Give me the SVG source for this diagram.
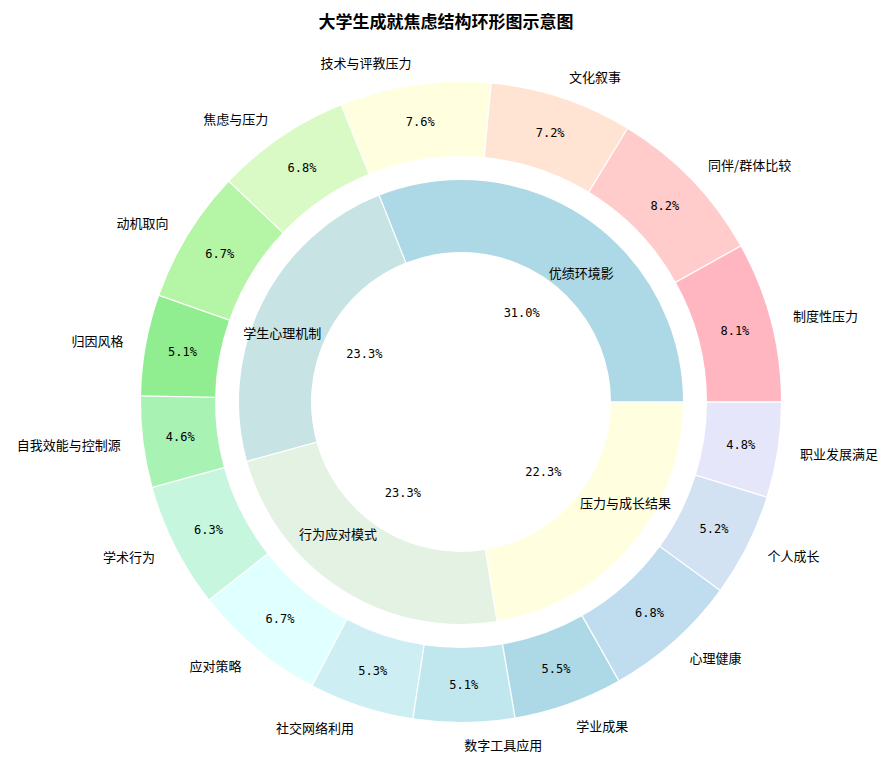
<svg xmlns="http://www.w3.org/2000/svg" width="892" height="763" viewBox="0 0 892 763">
<style>
.o{fill:none;stroke-width:74}
.i{fill:none;stroke-width:72}
.e{stroke:#fff;stroke-width:1.3}
.l{font-family:"Noto Sans CJK SC","DejaVu Sans",sans-serif;font-size:13px;fill:#000;dominant-baseline:central}
.p{font-family:"DejaVu Sans Mono","Liberation Mono",monospace;font-size:12px;fill:#000;text-anchor:middle;dominant-baseline:central}
</style>
<rect width="892" height="763" fill="#fff"/>
<text x="446" y="20" text-anchor="middle" dominant-baseline="central" style="font-family:'Noto Sans CJK SC',sans-serif;font-size:17px;font-weight:bold">大学生成就焦虑结构环形图示意图</text>
<g id="rings" transform="translate(461,402) scale(1,-1)">
<g id="outer">
<circle class="o" r="283" stroke="#FFB6C1" stroke-dasharray="144.1 2000" transform="rotate(0)"/>
<circle class="o" r="283" stroke="#FFCCCB" stroke-dasharray="145.8 2000" transform="rotate(29.16)"/>
<circle class="o" r="283" stroke="#FFE4D4" stroke-dasharray="128.1 2000" transform="rotate(58.68)"/>
<circle class="o" r="283" stroke="#FFFFE0" stroke-dasharray="135.2 2000" transform="rotate(84.6)"/>
<circle class="o" r="283" stroke="#D9F9C5" stroke-dasharray="121 2000" transform="rotate(111.96)"/>
<circle class="o" r="283" stroke="#B4F5A6" stroke-dasharray="119.2 2000" transform="rotate(136.44)"/>
<circle class="o" r="283" stroke="#90EE90" stroke-dasharray="90.8 2000" transform="rotate(160.56)"/>
<circle class="o" r="283" stroke="#A8F2B4" stroke-dasharray="81.9 2000" transform="rotate(178.92)"/>
<circle class="o" r="283" stroke="#C6F7DE" stroke-dasharray="112.1 2000" transform="rotate(195.48)"/>
<circle class="o" r="283" stroke="#E0FFFF" stroke-dasharray="119.2 2000" transform="rotate(218.16)"/>
<circle class="o" r="283" stroke="#CDEFF4" stroke-dasharray="94.3 2000" transform="rotate(242.28)"/>
<circle class="o" r="283" stroke="#C0E6EE" stroke-dasharray="90.8 2000" transform="rotate(261.36)"/>
<circle class="o" r="283" stroke="#ADD8E6" stroke-dasharray="97.9 2000" transform="rotate(279.72)"/>
<circle class="o" r="283" stroke="#BFDDEE" stroke-dasharray="121 2000" transform="rotate(299.52)"/>
<circle class="o" r="283" stroke="#D2E2F2" stroke-dasharray="92.6 2000" transform="rotate(324)"/>
<circle class="o" r="283" stroke="#E6E6FA" stroke-dasharray="85.6 2000" transform="rotate(342.72)"/>
</g>
<g id="inner">
<circle class="i" r="186" stroke="#ADD8E6" stroke-dasharray="362.4 2000" transform="rotate(0)"/>
<circle class="i" r="186" stroke="#C7E3E3" stroke-dasharray="272.4 2000" transform="rotate(111.6)"/>
<circle class="i" r="186" stroke="#E3F2E3" stroke-dasharray="272.4 2000" transform="rotate(195.48)"/>
<circle class="i" r="186" stroke="#FFFFE0" stroke-dasharray="261 2000" transform="rotate(279.36)"/>
</g>
<g id="edges">
<line class="e" x1="245" x2="321" transform="rotate(0)"/>
<line class="e" x1="245" x2="321" transform="rotate(29.16)"/>
<line class="e" x1="245" x2="321" transform="rotate(58.68)"/>
<line class="e" x1="245" x2="321" transform="rotate(84.6)"/>
<line class="e" x1="245" x2="321" transform="rotate(111.96)"/>
<line class="e" x1="245" x2="321" transform="rotate(136.44)"/>
<line class="e" x1="245" x2="321" transform="rotate(160.56)"/>
<line class="e" x1="245" x2="321" transform="rotate(178.92)"/>
<line class="e" x1="245" x2="321" transform="rotate(195.48)"/>
<line class="e" x1="245" x2="321" transform="rotate(218.16)"/>
<line class="e" x1="245" x2="321" transform="rotate(242.28)"/>
<line class="e" x1="245" x2="321" transform="rotate(261.36)"/>
<line class="e" x1="245" x2="321" transform="rotate(279.72)"/>
<line class="e" x1="245" x2="321" transform="rotate(299.52)"/>
<line class="e" x1="245" x2="321" transform="rotate(324)"/>
<line class="e" x1="245" x2="321" transform="rotate(342.72)"/>
<line class="e" x1="149" x2="223" transform="rotate(0)"/>
<line class="e" x1="149" x2="223" transform="rotate(111.6)"/>
<line class="e" x1="149" x2="223" transform="rotate(195.48)"/>
<line class="e" x1="149" x2="223" transform="rotate(279.36)"/>
</g>
</g>
<g id="labels" transform="translate(461,402)">
<g transform="rotate(-14.58)"><text class="l" x="343" transform="rotate(14.58 343 0)">制度性压力</text><text class="p" x="283" transform="rotate(14.58 283 0)">8.1%</text></g>
<g transform="rotate(-43.92)"><text class="l" x="343" transform="rotate(43.92 343 0)">同伴/群体比较</text><text class="p" x="283" transform="rotate(43.92 283 0)">8.2%</text></g>
<g transform="rotate(-71.64)"><text class="l" x="343" transform="rotate(71.64 343 0)">文化叙事</text><text class="p" x="283" transform="rotate(71.64 283 0)">7.2%</text></g>
<g transform="rotate(-98.28)"><text class="l" x="343" text-anchor="end" transform="rotate(98.28 343 0)">技术与评教压力</text><text class="p" x="283" transform="rotate(98.28 283 0)">7.6%</text></g>
<g transform="rotate(-124.2)"><text class="l" x="343" text-anchor="end" transform="rotate(124.2 343 0)">焦虑与压力</text><text class="p" x="283" transform="rotate(124.2 283 0)">6.8%</text></g>
<g transform="rotate(-148.5)"><text class="l" x="343" text-anchor="end" transform="rotate(148.5 343 0)">动机取向</text><text class="p" x="283" transform="rotate(148.5 283 0)">6.7%</text></g>
<g transform="rotate(-169.74)"><text class="l" x="343" text-anchor="end" transform="rotate(169.74 343 0)">归因风格</text><text class="p" x="283" transform="rotate(169.74 283 0)">5.1%</text></g>
<g transform="rotate(-187.2)"><text class="l" x="343" text-anchor="end" transform="rotate(187.2 343 0)">自我效能与控制源</text><text class="p" x="283" transform="rotate(187.2 283 0)">4.6%</text></g>
<g transform="rotate(-206.82)"><text class="l" x="343" text-anchor="end" transform="rotate(206.82 343 0)">学术行为</text><text class="p" x="283" transform="rotate(206.82 283 0)">6.3%</text></g>
<g transform="rotate(-230.22)"><text class="l" x="343" text-anchor="end" transform="rotate(230.22 343 0)">应对策略</text><text class="p" x="283" transform="rotate(230.22 283 0)">6.7%</text></g>
<g transform="rotate(-251.82)"><text class="l" x="343" text-anchor="end" transform="rotate(251.82 343 0)">社交网络利用</text><text class="p" x="283" transform="rotate(251.82 283 0)">5.3%</text></g>
<g transform="rotate(-270.54)"><text class="l" x="343" transform="rotate(270.54 343 0)">数字工具应用</text><text class="p" x="283" transform="rotate(270.54 283 0)">5.1%</text></g>
<g transform="rotate(-289.62)"><text class="l" x="343" transform="rotate(289.62 343 0)">学业成果</text><text class="p" x="283" transform="rotate(289.62 283 0)">5.5%</text></g>
<g transform="rotate(-311.76)"><text class="l" x="343" transform="rotate(311.76 343 0)">心理健康</text><text class="p" x="283" transform="rotate(311.76 283 0)">6.8%</text></g>
<g transform="rotate(-333.36)"><text class="l" x="343" transform="rotate(333.36 343 0)">个人成长</text><text class="p" x="283" transform="rotate(333.36 283 0)">5.2%</text></g>
<g transform="rotate(-351.36)"><text class="l" x="343" transform="rotate(351.36 343 0)">职业发展满足</text><text class="p" x="283" transform="rotate(351.36 283 0)">4.8%</text></g>
<g transform="rotate(-55.8)"><text class="l" x="156" transform="rotate(55.8 156 0)">优绩环境影</text><text class="p" x="108" transform="rotate(55.8 108 0)">31.0%</text></g>
<g transform="rotate(-153.54)"><text class="l" x="156" text-anchor="end" transform="rotate(153.54 156 0)">学生心理机制</text><text class="p" x="108" transform="rotate(153.54 108 0)">23.3%</text></g>
<g transform="rotate(-237.42)"><text class="l" x="156" text-anchor="end" transform="rotate(237.42 156 0)">行为应对模式</text><text class="p" x="108" transform="rotate(237.42 108 0)">23.3%</text></g>
<g transform="rotate(-319.68)"><text class="l" x="156" transform="rotate(319.68 156 0)">压力与成长结果</text><text class="p" x="108" transform="rotate(319.68 108 0)">22.3%</text></g>
</g>
</svg>
